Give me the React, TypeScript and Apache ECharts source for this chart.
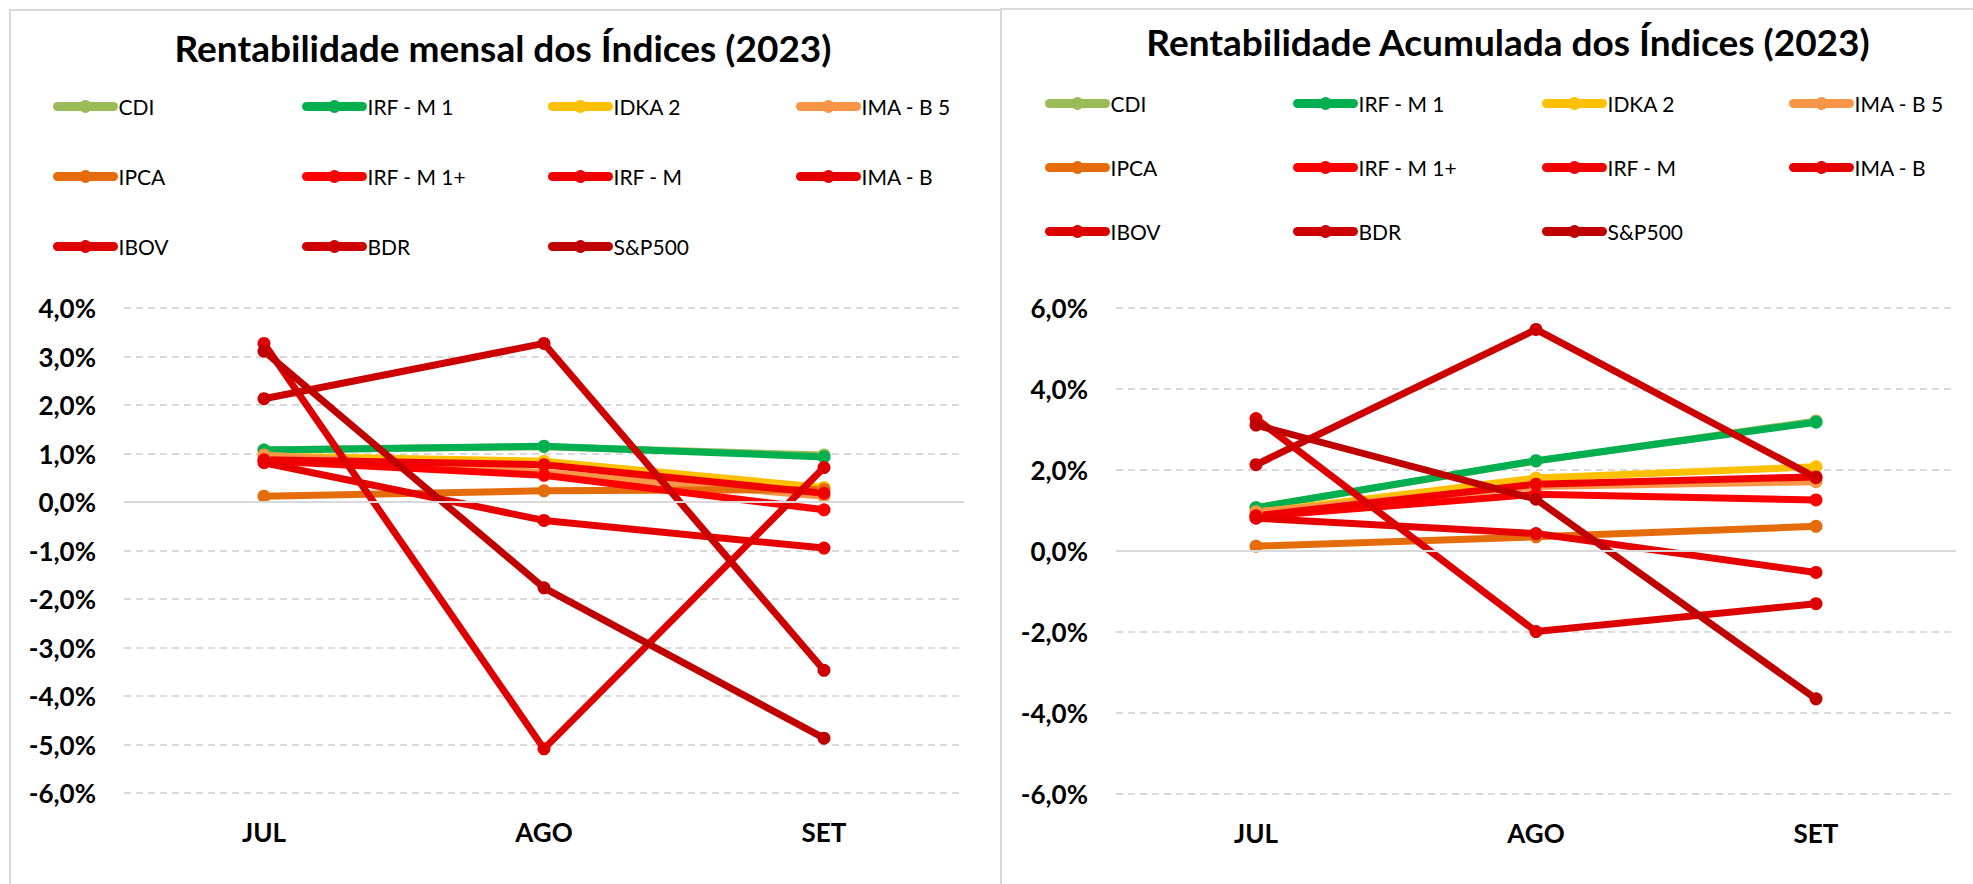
import React, { useEffect, useRef } from "react";
import * as echarts from "echarts";

const months = ["JUL", "AGO", "SET"];
const seriesNames = ["CDI", "IRF - M 1", "IDKA 2", "IMA - B 5", "IPCA", "IRF - M 1+", "IRF - M", "IMA - B", "IBOV", "BDR", "S&P500"];
const seriesColors = ["#9BBB59", "#00B050", "#FFC000", "#F79646", "#E46C0A", "#FF0000", "#F00000", "#E60000", "#DD0000", "#CC0000", "#C00000"];

// Rentabilidade mensal (%)
const mensalCDI = [1.07, 1.14, 0.97];
const mensalIRFM1 = [1.07, 1.15, 0.93];
const mensalIDKA2 = [0.95, 0.84, 0.3];
const mensalIMAB5 = [0.97, 0.61, 0.12];
const mensalIPCA = [0.12, 0.23, 0.26];
const mensalIRFM1p = [0.85, 0.55, -0.16];
const mensalIRFM = [0.87, 0.77, 0.18];
const mensalIMAB = [0.81, -0.38, -0.95];
const mensalIBOV = [3.27, -5.09, 0.71];
const mensalBDR = [2.13, 3.27, -3.47];
const mensalSP500 = [3.11, -1.77, -4.87];

// Rentabilidade acumulada (%)
const acumCDI = [1.07, 2.22, 3.21];
const acumIRFM1 = [1.07, 2.23, 3.18];
const acumIDKA2 = [0.95, 1.8, 2.08];
const acumIMAB5 = [0.97, 1.59, 1.71];
const acumIPCA = [0.12, 0.35, 0.61];
const acumIRFM1p = [0.85, 1.4, 1.26];
const acumIRFM = [0.87, 1.65, 1.83];
const acumIMAB = [0.81, 0.43, -0.53];
const acumIBOV = [3.27, -1.99, -1.3];
const acumBDR = [2.13, 5.47, 1.81];
const acumSP500 = [3.11, 1.28, -3.65];

const mensalData = [mensalCDI, mensalIRFM1, mensalIDKA2, mensalIMAB5, mensalIPCA, mensalIRFM1p, mensalIRFM, mensalIMAB, mensalIBOV, mensalBDR, mensalSP500];
const acumData = [acumCDI, acumIRFM1, acumIDKA2, acumIMAB5, acumIPCA, acumIRFM1p, acumIRFM, acumIMAB, acumIBOV, acumBDR, acumSP500];

const leftTicks = { min: -6, max: 4, interval: 1 };
const rightTicks = { min: -6, max: 6, interval: 2 };

const FONT = "Lato, 'Open Sans', sans-serif";

export default function App() {
  const ref = useRef<HTMLDivElement>(null);

  useEffect(() => {
    if (!ref.current) return;
    const chart = echarts.init(ref.current, null, { renderer: "svg" });

    const fmt = (v: number) => v.toFixed(1).replace(".", ",") + "%";

    const mkYAxis = (gi: number, t: { min: number; max: number; interval: number }) => ({
      type: "value",
      gridIndex: gi,
      min: t.min,
      max: t.max,
      interval: t.interval,
      axisLine: { show: false },
      axisTick: { show: false },
      axisLabel: { formatter: fmt, fontSize: 26, fontWeight: "bold", color: "#000", fontFamily: FONT, margin: 28 },
      splitLine: { show: true, lineStyle: { color: "#D9D9D9", width: 2, type: [7, 5] } },
    });

    const mkXAxis = (gi: number) => ({
      type: "category",
      gridIndex: gi,
      data: months,
      boundaryGap: true,
      axisLine: { show: false },
      axisTick: { show: false },
      axisLabel: { fontSize: 26, fontWeight: "bold", color: "#000", fontFamily: FONT, margin: 26 },
      splitLine: { show: false },
    });

    const series: any[] = [];
    [mensalData, acumData].forEach((dataset, gi) => {
      series.push({
        type: "line",
        name: "__zero" + gi,
        xAxisIndex: gi,
        yAxisIndex: gi,
        data: [],
        z: 1,
        silent: true,
        markLine: {
          silent: true,
          symbol: "none",
          label: { show: false },
          lineStyle: { color: "#D9D9D9", width: 2, type: "solid" },
          data: [{ yAxis: 0 }],
        },
      });
      dataset.forEach((vals, i) => {
        series.push({
          type: "line",
          name: seriesNames[i],
          xAxisIndex: gi,
          yAxisIndex: gi,
          data: vals,
          z: 2,
          symbol: "circle",
          symbolSize: 13,
          color: seriesColors[i],
          itemStyle: { color: seriesColors[i] },
          lineStyle: { width: 7, color: seriesColors[i], cap: "round", join: "round" },
        });
      });
    });

    const legends: any[] = [];
    const leftCols = [53, 302, 548, 796];
    const leftRows = [104, 174, 244];
    const rightCols = [1045, 1293, 1542, 1789];
    const rightRows = [101, 165, 229];
    const addLegends = (cols: number[], rows: number[]) => {
      seriesNames.forEach((n, i) => {
        legends.push({
          data: [n],
          left: cols[i % 4],
          top: rows[Math.floor(i / 4)] - 8,
          padding: 0,
          itemWidth: 56,
          itemHeight: 16,
          itemGap: 0,
          selectedMode: false,
          textStyle: { fontSize: 21, fontFamily: FONT, color: "#000" },
          lineStyle: { width: 9, cap: "round" },
        });
      });
    };
    addLegends(leftCols, leftRows);
    addLegends(rightCols, rightRows);

    const titleStyle = (text: string, x: number, y: number) => ({
      type: "text",
      x,
      y,
      style: {
        text,
        fontSize: 37,
        fontWeight: "bold",
        fontFamily: FONT,
        fill: "#000",
        align: "center",
        verticalAlign: "middle",
        textAlign: "center",
        textVerticalAlign: "middle",
      },
    });

    chart.setOption({
      animation: false,
      backgroundColor: "#fff",
      grid: [
        { left: 124, top: 308, width: 840, height: 485 },
        { left: 1116, top: 308, width: 840, height: 486 },
      ],
      xAxis: [mkXAxis(0), mkXAxis(1)],
      yAxis: [mkYAxis(0, leftTicks), mkYAxis(1, rightTicks)],
      legend: legends,
      series,
      graphic: [
        { type: "rect", shape: { x: 10, y: 10, width: 991, height: 900 }, style: { fill: "none", stroke: "#D9D9D9", lineWidth: 2 }, z: -1 },
        { type: "rect", shape: { x: 1001, y: 9, width: 1000, height: 900 }, style: { fill: "none", stroke: "#D9D9D9", lineWidth: 2 }, z: -1 },
        titleStyle("Rentabilidade mensal dos Índices (2023)", 503, 47),
        titleStyle("Rentabilidade Acumulada dos Índices (2023)", 1508, 41),
      ],
    });

    return () => chart.dispose();
  }, []);

  return <div ref={ref} style={{ position: "fixed", left: 0, top: 0, width: 1973, height: 884, background: "#fff" }} />;
}
